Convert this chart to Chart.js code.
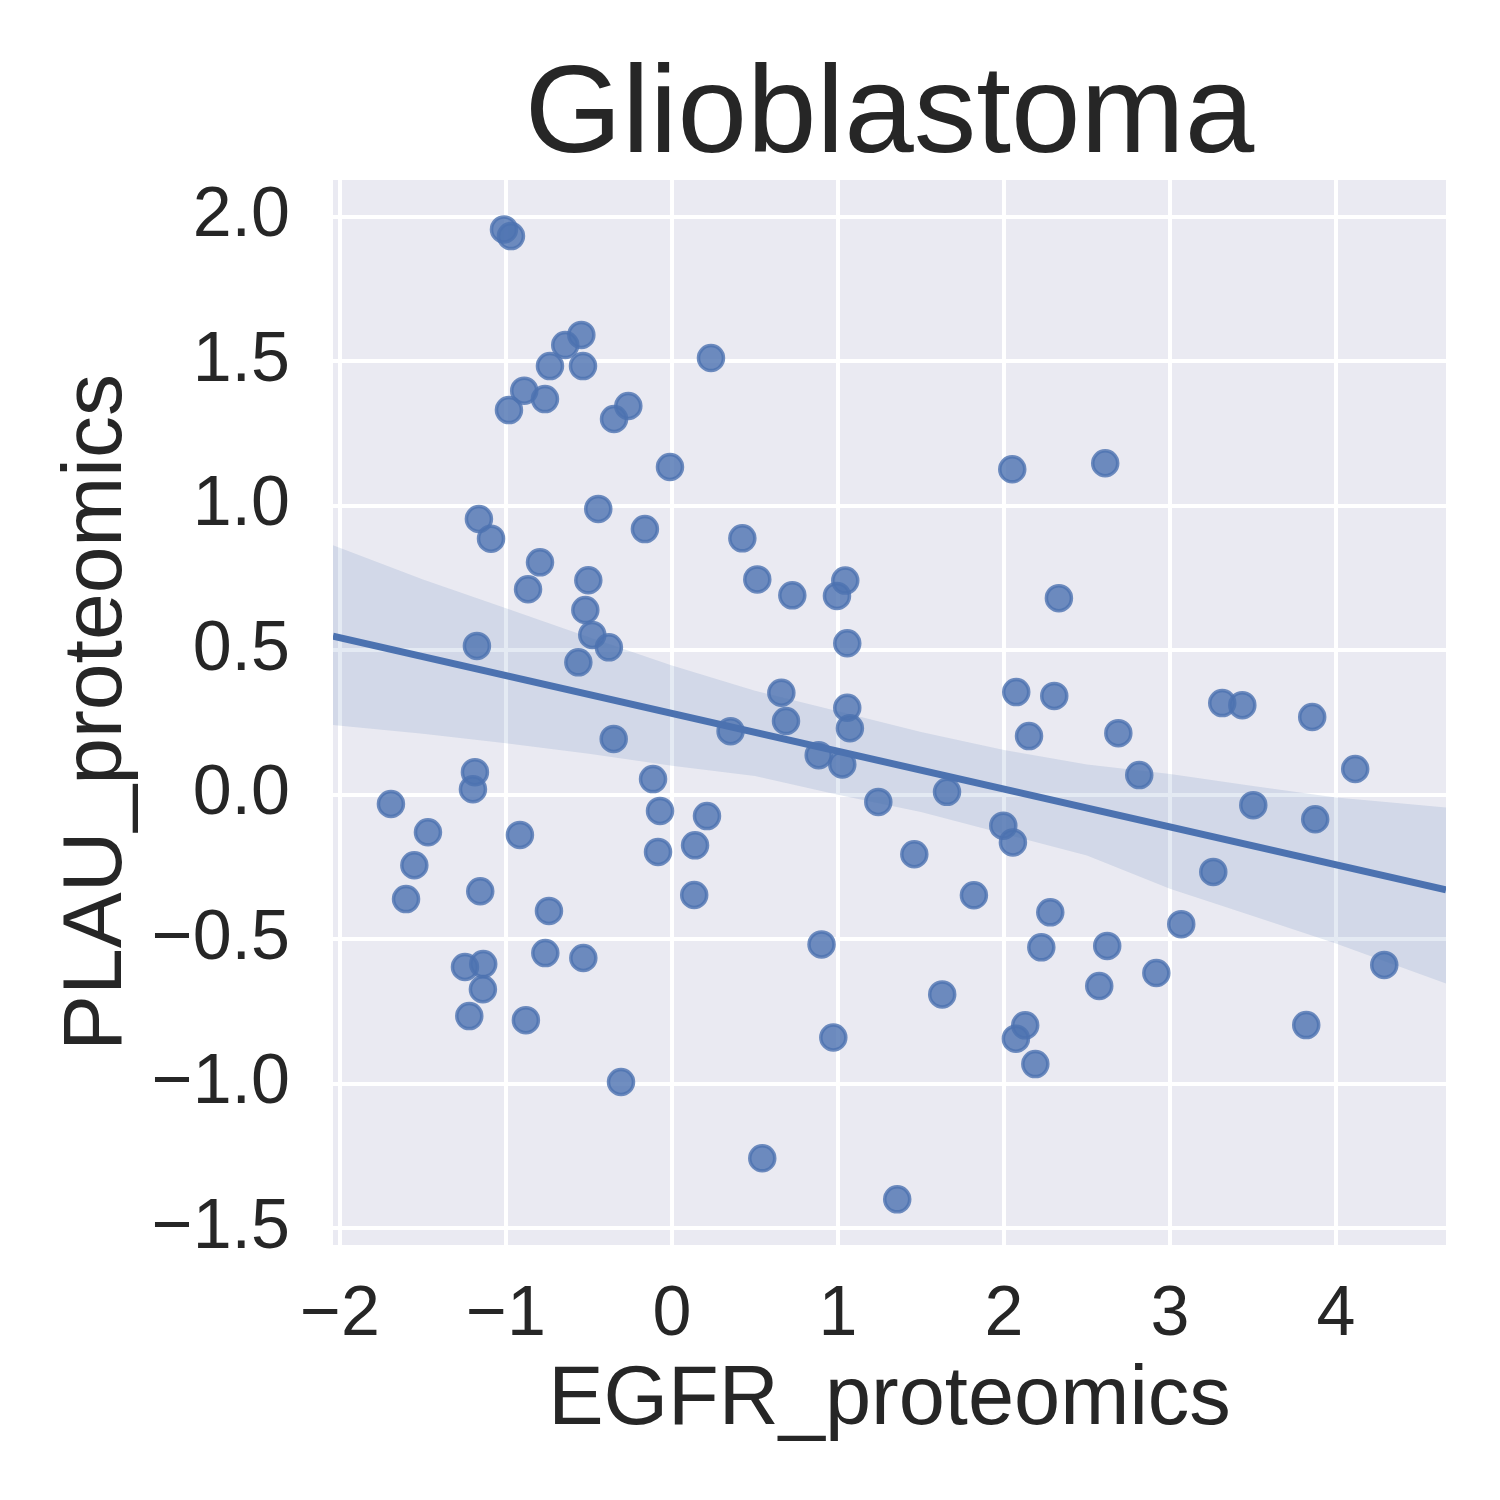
<!DOCTYPE html>
<html>
<head>
<meta charset="utf-8">
<script src="https://cdn.jsdelivr.net/npm/chart.js@4"></script>
<style>
  body { margin: 0; background: #ffffff; }
  canvas { display: block; }
</style>
</head>
<body>
<canvas id="graphic" width="1500" height="1500"></canvas>
<script>
var titulo = 'Glioblastoma';
var eixoX = 'EGFR_proteomics';
var eixoY = 'PLAU_proteomics';

// pontos
var egfr = [-1.012, -0.970, -0.546, -0.643, -0.735, -0.536, 0.235, -0.890, -0.765, -0.982,
    -0.263, -0.349, -0.012, -0.444, -0.163, -1.163, -1.090, -0.795, -0.867, -0.504,
    -0.522, -0.480, -0.380, -0.564, -1.175, -0.351, -1.187, -1.199, -1.693, -1.470,
    -1.552, -0.916, -0.114, -0.072, -0.084, 0.211, 0.139, -1.602, -1.155, -0.741,
    0.134, -0.763, -0.534, -1.247, -1.137, -1.139, -1.221, -0.880, -0.307, 2.050,
    0.424, 0.514, 0.725, 1.044, 0.994, 2.331, 1.056, 0.659, 0.687, 0.353,
    1.056, 1.072, 2.074, 2.303, 2.151, 0.884, 1.026, 1.243, 1.657, 1.996,
    2.054, 1.460, 1.819, 2.279, 2.225, 0.901, 1.628, 0.972, 2.128, 2.072,
    2.189, 0.544, 1.357, 2.610, 3.315, 3.436, 3.857, 2.689, 2.815, 4.116,
    3.502, 3.875, 3.261, 3.068, 2.622, 2.918, 2.574, 4.291, 3.821];
var plau = [1.956, 1.933, 1.591, 1.556, 1.483, 1.483, 1.511, 1.398, 1.369, 1.331,
    1.345, 1.300, 1.134, 0.989, 0.919, 0.954, 0.886, 0.804, 0.711, 0.742,
    0.639, 0.553, 0.510, 0.458, 0.515, 0.193, 0.078, 0.019, -0.032, -0.130,
    -0.244, -0.139, 0.054, -0.056, -0.198, -0.074, -0.175, -0.361, -0.334, -0.402,
    -0.347, -0.548, -0.565, -0.596, -0.586, -0.673, -0.766, -0.780, -0.994, 1.126,
    0.887, 0.745, 0.690, 0.741, 0.688, 0.680, 0.524, 0.353, 0.255, 0.220,
    0.301, 0.230, 0.355, 0.342, 0.203, 0.137, 0.105, -0.025, 0.010, -0.107,
    -0.165, -0.206, -0.348, -0.407, -0.528, -0.518, -0.691, -0.840, -0.798, -0.844,
    -0.932, -1.258, -1.400, 1.147, 0.317, 0.310, 0.269, 0.213, 0.068, 0.089,
    -0.036, -0.085, -0.267, -0.448, -0.523, -0.617, -0.662, -0.589, -0.797];

// reta de regressao e intervalo de confianca
var retaX = [-2.042, 4.663];
var retaY = [0.549, -0.329];
var faixaX = [-2.042, -1.5, -1.0, -0.5, 0.0, 0.5, 1.0, 1.5, 2.0, 2.5, 3.0, 3.5, 4.0, 4.663];
var faixaSup = [0.863, 0.745, 0.645, 0.545, 0.447, 0.360, 0.289, 0.217, 0.155, 0.105, 0.072, 0.030, -0.010, -0.044];
var faixaInf = [0.241, 0.211, 0.178, 0.142, 0.100, 0.065, 0.000, -0.060, -0.135, -0.210, -0.325, -0.420, -0.515, -0.653];

var ticksX = [-2, -1, 0, 1, 2, 3, 4];
var ticksY = [-1.5, -1.0, -0.5, 0.0, 0.5, 1.0, 1.5, 2.0];

var azul = '#4C72B0';
var texto = '#262626';
var fonte = '"Liberation Sans", Arial, sans-serif';

function pares(xs, ys) {
    var out = [];
    for (var i = 0; i < xs.length; i++) {
        out.push({x: xs[i], y: ys[i]});
    }
    return out;
}

function menos(s) {
    return s.replace('-', '\u2212');
}

var fundo = {
    id: 'fundo',
    beforeDraw: function (chart) {
        var a = chart.chartArea;
        var c = chart.ctx;
        c.save();
        c.fillStyle = '#EAEAF2';
        c.fillRect(a.left, a.top, a.right - a.left, a.bottom - a.top);
        c.restore();
    }
};

var ctx = document.getElementById('graphic');

var chartGraph = new Chart(ctx, {
    type: 'scatter',
    data: {
        datasets: [{
            type: 'line',
            data: pares(faixaX, faixaInf),
            borderWidth: 0,
            pointRadius: 0,
            fill: false,
            order: 1
        }, {
            type: 'line',
            data: pares(faixaX, faixaSup),
            borderWidth: 0,
            pointRadius: 0,
            fill: '-1',
            backgroundColor: 'rgba(76, 114, 176, 0.15)',
            order: 1
        }, {
            type: 'line',
            data: pares(retaX, retaY),
            borderColor: azul,
            borderWidth: 7,
            pointRadius: 0,
            fill: false,
            order: 0
        }, {
            data: pares(egfr, plau),
            backgroundColor: 'rgba(76, 114, 176, 0.8)',
            borderColor: 'rgba(76, 114, 176, 0.8)',
            borderWidth: 3.5,
            pointRadius: 12.5,
            order: 2
        }]
    },
    options: {
        responsive: false,
        devicePixelRatio: 1,
        animation: false,
        layout: { padding: { left: 0, right: 54, top: 0, bottom: 0 } },
        plugins: {
            legend: { display: false },
            tooltip: { enabled: false },
            title: {
                display: true,
                text: titulo,
                fullSize: false,
                color: texto,
                font: { family: fonte, size: 125, weight: 'normal', lineHeight: 1 },
                padding: { top: 55, bottom: 0 }
            }
        },
        scales: {
            x: {
                type: 'linear',
                min: -2.042,
                max: 4.663,
                afterFit: function (scale) { scale.height = 255; },
                afterBuildTicks: function (scale) {
                    scale.ticks = ticksX.map(function (v) { return {value: v}; });
                },
                border: { display: false },
                grid: { color: '#ffffff', lineWidth: 4, drawTicks: false },
                ticks: {
                    color: texto,
                    padding: 36,
                    font: { family: fonte, size: 70, lineHeight: 1 },
                    callback: function (v) { return menos(String(v)); }
                },
                title: {
                    display: true,
                    text: eixoX,
                    color: texto,
                    font: { family: fonte, size: 83, lineHeight: 1 },
                    padding: { top: 0, bottom: 57 }
                }
            },
            y: {
                type: 'linear',
                min: -1.558,
                max: 2.127,
                afterFit: function (scale) { scale.width = 333; },
                afterBuildTicks: function (scale) {
                    scale.ticks = ticksY.map(function (v) { return {value: v}; });
                },
                border: { display: false },
                grid: { color: '#ffffff', lineWidth: 4, drawTicks: false },
                ticks: {
                    color: texto,
                    padding: 43,
                    font: { family: fonte, size: 70, lineHeight: 1 },
                    callback: function (v) { return menos(v.toFixed(1)); }
                },
                title: {
                    display: true,
                    text: eixoY,
                    color: texto,
                    font: { family: fonte, size: 84, lineHeight: 1 },
                    padding: { top: 56, bottom: 0 }
                }
            }
        }
    },
    plugins: [fundo]
});
</script>
</body>
</html>
